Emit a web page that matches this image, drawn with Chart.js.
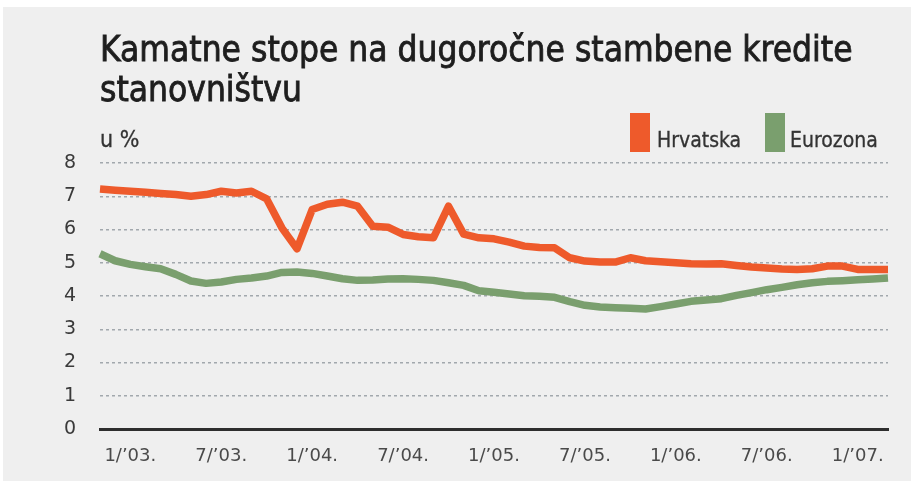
<!DOCTYPE html>
<html>
<head>
<meta charset="utf-8">
<script src="https://cdn.jsdelivr.net/npm/chart.js@4/dist/chart.umd.min.js"></script>
<style>
  html,body{margin:0;padding:0;background:#fff;}
  #wrap{position:absolute;left:3px;top:7px;width:908px;height:474px;background:#efefef;}
  #chart{position:absolute;left:0;top:0;}
  .cond{font-family:"Liberation Sans Narrow","DejaVu Sans Condensed","Roboto Condensed",sans-serif;font-stretch:condensed;}
  #title{position:absolute;left:97px;top:22px;font-size:35px;line-height:40px;color:#1e1e1e;white-space:nowrap;-webkit-text-stroke:0.8px #1e1e1e;}
  #unit{position:absolute;left:97px;top:119px;font-size:23px;color:#333;-webkit-text-stroke:0.3px #333;}
  .lg{position:absolute;top:106px;height:39px;width:20px;}
  .lgt{position:absolute;top:121px;font-size:21px;color:#333;-webkit-text-stroke:0.3px #333;}
</style>
</head>
<body>
<div id="wrap">
  <canvas id="chart" width="908" height="474"></canvas>
  <div id="title" class="cond">Kamatne stope na dugoročne stambene kredite<br>stanovništvu</div>
  <div id="unit" class="cond">u %</div>
  <div class="lg" style="left:627px;background:#ee5a2b"></div>
  <div class="lgt cond" style="left:654px">Hrvatska</div>
  <div class="lg" style="left:762px;background:#7a9f6e"></div>
  <div class="lgt cond" style="left:787px">Eurozona</div>
</div>
<script>
// mjesečni podaci 11/'02 – 3/'07
const months = [
  "11/’02.","12/’02.",
  "1/’03.","2/’03.","3/’03.","4/’03.","5/’03.","6/’03.","7/’03.","8/’03.","9/’03.","10/’03.","11/’03.","12/’03.",
  "1/’04.","2/’04.","3/’04.","4/’04.","5/’04.","6/’04.","7/’04.","8/’04.","9/’04.","10/’04.","11/’04.","12/’04.",
  "1/’05.","2/’05.","3/’05.","4/’05.","5/’05.","6/’05.","7/’05.","8/’05.","9/’05.","10/’05.","11/’05.","12/’05.",
  "1/’06.","2/’06.","3/’06.","4/’06.","5/’06.","6/’06.","7/’06.","8/’06.","9/’06.","10/’06.","11/’06.","12/’06.",
  "1/’07.","2/’07.","3/’07."
];
const shownTicks = ["1/’03.","7/’03.","1/’04.","7/’04.","1/’05.","7/’05.","1/’06.","7/’06.","1/’07."];

const hrvatska = [
  7.22,7.18,7.15,7.12,7.08,7.05,7.00,7.05,7.15,7.10,7.15,6.92,6.05,5.42,
  6.60,6.76,6.82,6.70,6.10,6.07,5.85,5.78,5.75,6.70,5.86,5.75,
  5.72,5.62,5.50,5.46,5.45,5.15,5.05,5.02,5.02,5.15,5.06,5.03,
  5.00,4.97,4.96,4.97,4.92,4.87,4.84,4.81,4.80,4.82,4.90,4.90,
  4.80,4.80,4.80
];
const eurozona = [
  5.27,5.06,4.95,4.88,4.82,4.65,4.45,4.38,4.42,4.50,4.54,4.60,4.71,4.72,
  4.68,4.60,4.52,4.47,4.48,4.51,4.52,4.50,4.47,4.40,4.32,4.16,
  4.11,4.06,4.01,3.99,3.96,3.83,3.72,3.67,3.65,3.63,3.61,3.68,
  3.76,3.84,3.88,3.92,4.02,4.10,4.19,4.26,4.34,4.40,4.44,4.46,
  4.49,4.51,4.54
];
const yTicks = [0,1,2,3,4,5,6,7,8];

new Chart(document.getElementById('chart'), {
  type: 'line',
  data: {
    labels: months,
    datasets: [
      {label:'Hrvatska', data:hrvatska, borderColor:'#ee5a2b', borderWidth:7.5, pointRadius:0, tension:0, borderJoinStyle:'round', borderCapStyle:'butt'},
      {label:'Eurozona', data:eurozona, borderColor:'#7a9f6e', borderWidth:7.5, pointRadius:0, tension:0, borderJoinStyle:'round', borderCapStyle:'butt'}
    ]
  },
  options: {
    responsive:false, animation:false,
    layout:{padding:{top:156, right:23, left:0, bottom:0}},
    plugins:{legend:{display:false}, tooltip:{enabled:false}},
    scales:{
      x:{
        grid:{display:false},
        border:{display:true, color:'#2e2e2e', width:3},
        ticks:{autoSkip:false, maxRotation:0, padding:9, color:'#4a4a4a',
          font:{family:'"DejaVu Sans"', size:18},
          callback:(v,i)=> shownTicks.includes(months[i]) ? months[i] : ''},
        afterFit:(s)=>{ s.height = 52; }
      },
      y:{
        min:0, max:8,
        afterBuildTicks:(s)=>{ s.ticks = yTicks.map(v=>({value:v})); },
        afterFit:(s)=>{ s.width = 97; },
        border:{display:false, dash:[3,3]},
        grid:{drawTicks:false, lineWidth:1.5, color:(c)=> c.tick && c.tick.value===0 ? 'rgba(0,0,0,0)' : '#a2a8ad'},
        ticks:{padding:24, color:'#3a3a3a', font:{family:'"DejaVu Sans"', size:19}}
      }
    }
  }
});
</script>
</body>
</html>
